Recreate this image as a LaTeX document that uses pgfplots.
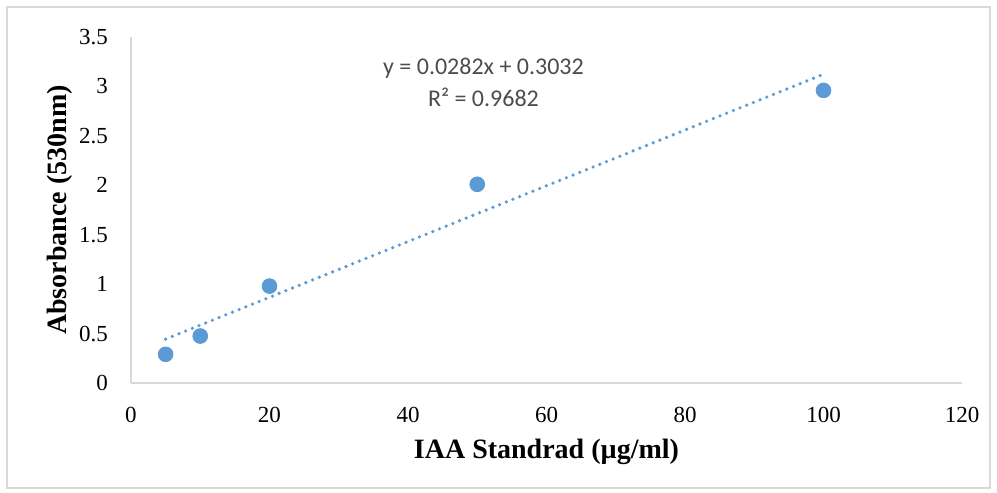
\documentclass[border=0pt]{standalone}
\usepackage{fontspec}
\setmainfont{Liberation Serif}
\newfontfamily\calibri{Carlito}
\usepackage{pgfplots}
\pgfplotsset{compat=1.18}
\definecolor{ptblue}{HTML}{5B9BD5}
\definecolor{axgray}{HTML}{D9D9D9}

\begin{document}
\begin{tikzpicture}
\useasboundingbox (-65.5pt,-55pt) rectangle (433pt,191.5pt);
\draw[axgray, line width=0.8pt] (-62pt,-52.5pt) rectangle (429.5pt,188pt);
\begin{axis}[
  at={(0,0)}, anchor=origin,
  scale only axis, width=415.5pt, height=173pt,
  xmin=0, xmax=120, ymin=0, ymax=3.5,
  xtick={0,20,...,120}, ytick={0,0.5,...,3.5},
  axis x line*=bottom, axis y line*=left,
  axis line style={axgray, line width=0.8pt, -},
  major tick length=0pt,
  /pgf/number format/assume math mode=true,
  ticklabel style={font=\fontsize{11.5}{13}\selectfont},
  xticklabel style={anchor=center, yshift=-16pt},
  yticklabel style={anchor=east, xshift=-8pt},
  xlabel={\textbf{IAA Standrad (µg/ml)}},
  ylabel={\textbf{Absorbance (530nm)}},
  label style={font=\fontsize{14}{16}\selectfont},
  xlabel style={at={(axis description cs:0.5,-0.199)}, anchor=center},
  ylabel style={at={(axis description cs:-0.0854,0.5)}, anchor=center, rotate=0},
  clip=false,
]
\addplot[ptblue, line width=1.8pt, line cap=round, dash pattern=on 0pt off 3.6pt]
  coordinates {(5,0.4442) (100,3.1232)};
\addplot[only marks, mark=*, mark size=3.7pt, ptblue, mark options={fill=ptblue, draw=ptblue}]
  coordinates {(5,0.29) (10,0.475) (20,0.98) (50,2.01) (100,2.96)};
\node[font=\calibri\fontsize{12}{16}\selectfont, text=black!70, align=center]
  at (axis cs:50.9,3.04) {y = 0.0282x + 0.3032\\R² = 0.9682};
\end{axis}
\end{tikzpicture}
\end{document}
